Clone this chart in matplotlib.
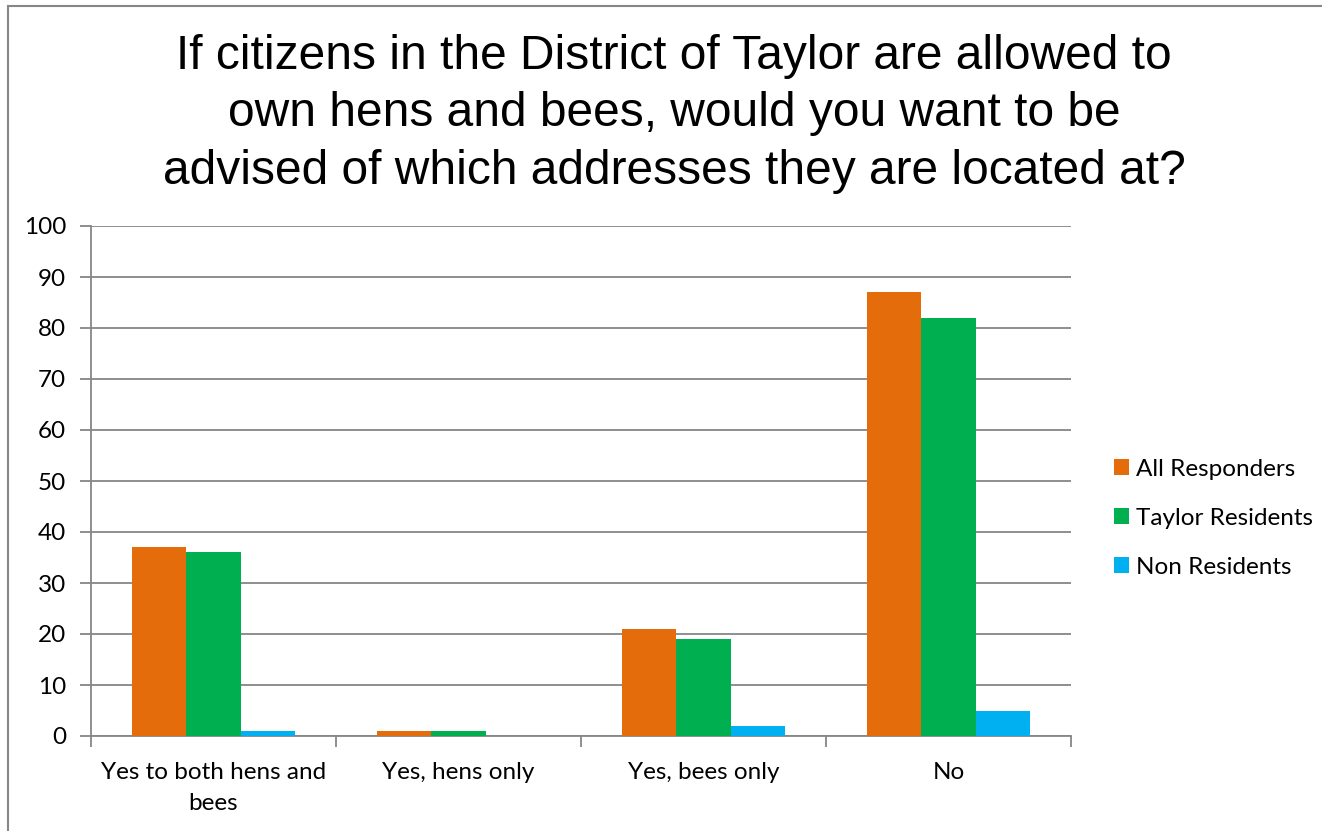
import matplotlib.pyplot as plt
from matplotlib.patches import Rectangle
import numpy as np

categories = ['Yes to both hens and\nbees', 'Yes, hens only', 'Yes, bees only', 'No']
series_names = ['All Responders', 'Taylor Residents', 'Non Residents']
all_responders = [37, 1, 21, 87]
taylor_residents = [36, 1, 19, 82]
non_residents = [1, 0, 2, 5]
colors = ['#E46C0A', '#00B050', '#00B0F0']

grey = '#868686'
lab_font = 'Lato'

fig = plt.figure(figsize=(13.22, 8.31), dpi=100)
fig.patches.append(Rectangle((8 / 1322, -0.1), 1.2, 1 - 6 / 831 + 0.1, transform=fig.transFigure,
                             fill=False, edgecolor=grey, linewidth=1.5))

ax = fig.add_axes([91 / 1322, 95 / 831, 980 / 1322, 510 / 831])

x = np.arange(len(categories))
w = 1 / 4.5
for i, (vals, name) in enumerate(zip([all_responders, taylor_residents, non_residents], series_names)):
    ax.bar(x + (i - 1) * w, vals, width=w, color=colors[i], label=name, zorder=3)

ax.set_xlim(-0.5, len(categories) - 0.5)
ax.set_ylim(0, 100)
ax.set_yticks(range(0, 101, 10))
ax.grid(axis='y', color=grey, linewidth=1.3, zorder=0)
for s in ['top', 'right']:
    ax.spines[s].set_visible(False)
for s in ['left', 'bottom']:
    ax.spines[s].set_color(grey)
    ax.spines[s].set_linewidth(1.3)

ax.set_xticks(np.arange(-0.5, len(categories), 1.0))
ax.set_xticklabels([])
ax.set_xticks(x, minor=True)
ax.set_xticklabels(categories, minor=True, fontsize=17.5, family=lab_font, linespacing=1.55)
ax.tick_params(axis='x', which='major', length=8, color=grey, width=1.3)
ax.tick_params(axis='x', which='minor', length=0, pad=19)
ax.tick_params(axis='y', length=8, color=grey, width=1.3, labelsize=17.5, pad=10)
for t in ax.get_yticklabels():
    t.set_family(lab_font)

fig.text(674 / 1322, 1 - 114 / 831,
         'If citizens in the District of Taylor are allowed to\nown hens and bees, would you want to be\nadvised of which addresses they are located at?',
         ha='center', va='center', fontsize=34.5, family='Liberation Sans', linespacing=1.35)

ax.legend(loc='center left', bbox_to_anchor=(1.022, 0.427), frameon=False,
          prop={'family': lab_font, 'size': 17.5}, handlelength=0.6, handleheight=0.6,
          handletextpad=0.3, labelspacing=1.15)

fig.savefig('out.png', dpi=100)
